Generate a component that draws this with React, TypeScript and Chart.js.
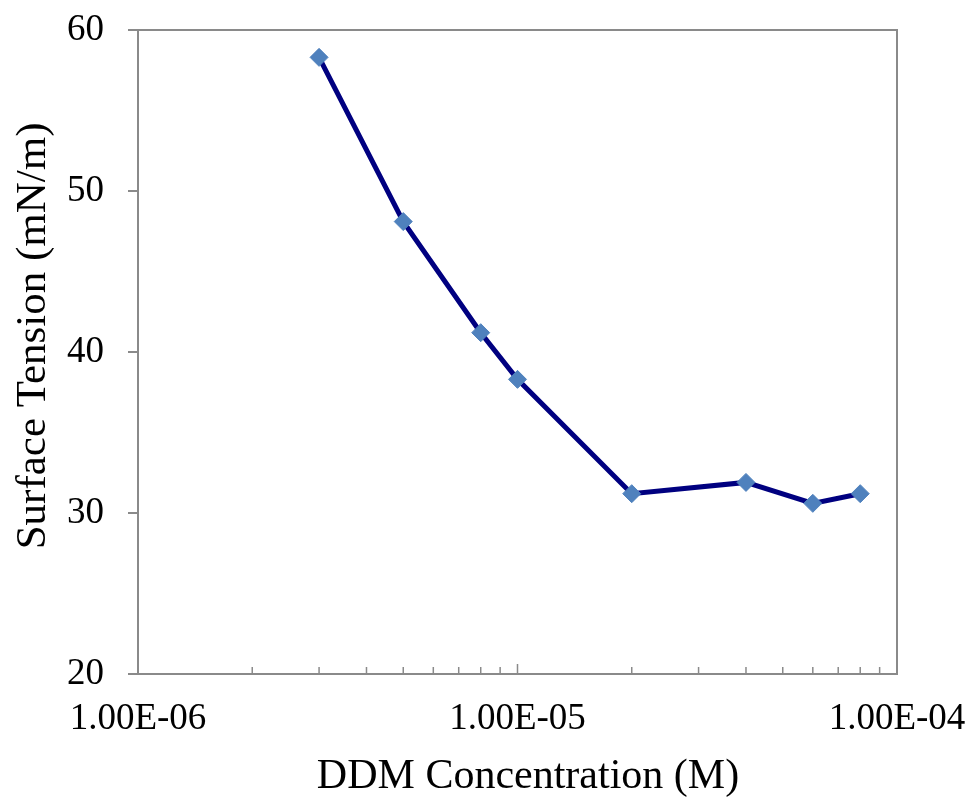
import React, { useEffect, useRef } from "react";
import { Chart, registerables } from "chart.js";

Chart.register(...registerables);

const concentrations = [3e-6, 5e-6, 8e-6, 1e-5, 2e-5, 4e-5, 6e-5, 8e-5];
const surfaceTension = [58.3, 48.1, 41.2, 38.3, 31.2, 31.9, 30.6, 31.2];
const xTickValues = [1e-6, 1e-5, 1e-4];
const xTickLabels = ["1.00E-06", "1.00E-05", "1.00E-04"];
const yTickValues = [20, 30, 40, 50, 60];

const AXIS_GRAY = "#8a8a8a";
const FONT = "'Liberation Serif', 'Times New Roman', serif";

const frameAndTicks = {
  id: "frameAndTicks",
  beforeDatasetsDraw(chart: any) {
    const { ctx, chartArea } = chart;
    const xs = chart.scales.x;
    ctx.save();
    ctx.strokeStyle = AXIS_GRAY;
    ctx.lineWidth = 2;
    ctx.strokeRect(chartArea.left, chartArea.top, chartArea.right - chartArea.left, chartArea.bottom - chartArea.top);
    ctx.lineWidth = 1.5;
    const decades = [1e-6, 1e-5];
    decades.forEach((d) => {
      for (let k = 1; k <= 9; k++) {
        const v = k * d;
        if (v <= xs.min) continue;
        const px = xs.getPixelForValue(v);
        const len = k === 1 ? 10 : 7;
        ctx.beginPath();
        ctx.moveTo(px, chartArea.bottom);
        ctx.lineTo(px, chartArea.bottom - len);
        ctx.stroke();
      }
    });
    ctx.restore();
  },
};

function zeroPad(scale: any) {
  scale.paddingTop = 0;
  scale.paddingBottom = 0;
  scale.paddingLeft = 0;
  scale.paddingRight = 0;
}

export default function App() {
  const ref = useRef<HTMLCanvasElement>(null);
  useEffect(() => {
    if (!ref.current) return;
    const chart = new Chart(ref.current, {
      type: "line",
      data: {
        datasets: [
          {
            data: concentrations.map((c, i) => ({ x: c, y: surfaceTension[i] })),
            borderColor: "#000080",
            borderWidth: 5,
            pointStyle: "rectRot",
            pointRadius: 9,
            pointBackgroundColor: "#4F81BD",
            pointBorderColor: "#4F81BD",
            pointBorderWidth: 1,
            tension: 0,
          },
        ],
      },
      options: {
        responsive: false,
        animation: false,
        layout: { padding: { left: 0, top: 30, right: 76, bottom: 0 } },
        plugins: { legend: { display: false }, tooltip: { enabled: false } },
        scales: {
          x: {
            type: "logarithmic",
            min: 1e-6,
            max: 1e-4,
            afterBuildTicks: (scale: any) => {
              scale.ticks = xTickValues.map((v) => ({ value: v }));
            },
            afterFit: (scale: any) => {
              scale.height = 126;
              zeroPad(scale);
            },
            grid: { display: false, drawTicks: false, tickLength: 0 },
            border: { display: true, color: AXIS_GRAY, width: 2 },
            ticks: {
              autoSkip: false,
              maxRotation: 0,
              padding: 23,
              color: "#000",
              font: { family: FONT, size: 37 },
              callback: (_v: any, i: number) => xTickLabels[i],
            },
            title: {
              display: true,
              text: "  DDM Concentration (M)",
              color: "#000",
              font: { family: FONT, size: 42, lineHeight: 1.1 },
              padding: { top: 0, bottom: 0 },
            },
          },
          y: {
            type: "linear",
            min: 20,
            max: 60,
            afterBuildTicks: (scale: any) => {
              scale.ticks = yTickValues.map((v) => ({ value: v }));
            },
            afterFit: (scale: any) => {
              scale.width = 138;
              zeroPad(scale);
            },
            grid: { drawOnChartArea: false, drawTicks: true, tickLength: 10, color: AXIS_GRAY, lineWidth: 2 },
            border: { display: true, color: AXIS_GRAY, width: 2 },
            ticks: {
              padding: 24,
              color: "#000",
              font: { family: FONT, size: 37 },
            },
            title: {
              display: true,
              text: "   Surface Tension (mN/m)",
              color: "#000",
              font: { family: FONT, size: 43, lineHeight: 1.1 },
              padding: { top: 10, bottom: 0 },
            },
          },
        },
      },
      plugins: [frameAndTicks],
    } as any);
    return () => chart.destroy();
  }, []);
  return (
    <div style={{ position: "absolute", left: 0, top: 0, width: 973, height: 800, background: "#fff" }}>
      <canvas ref={ref} width={973} height={800} style={{ display: "block" }} />
    </div>
  );
}
